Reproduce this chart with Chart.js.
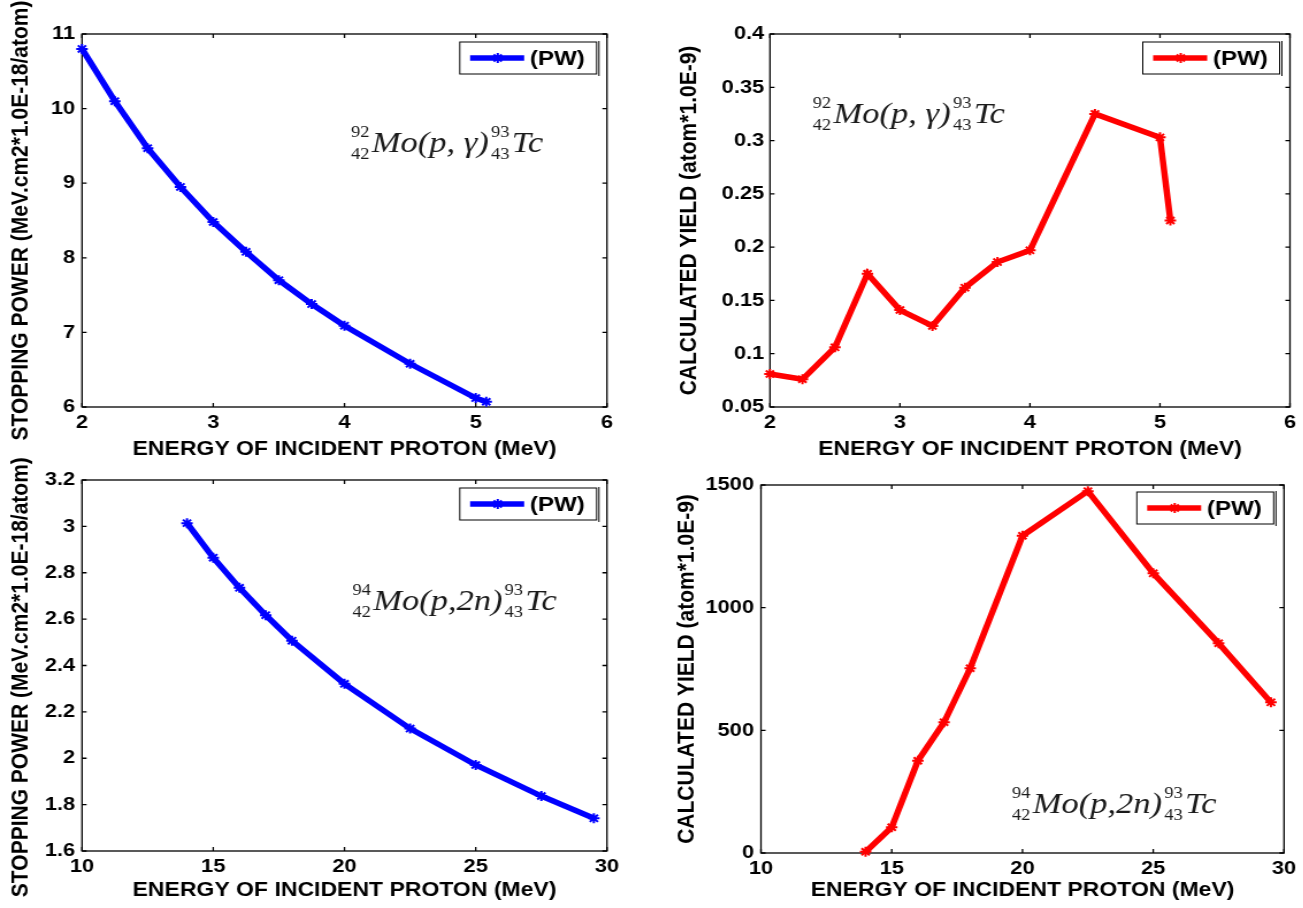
<!DOCTYPE html>
<html>
<head>
<meta charset="utf-8">
<script src="https://cdn.jsdelivr.net/npm/chart.js@4"></script>
<style>
  body { margin: 0; background: #fff; width: 1303px; height: 908px; overflow: hidden; position: relative; }
  /* the original figure is stretched sideways, so each panel is drawn narrow and widened */
  .panel { position: absolute; transform: scaleX(1.15); transform-origin: 0 0; }
</style>
</head>
<body>
<div class="panel" style="left:0;top:0"><canvas id="c1" width="565" height="465"></canvas></div>
<div class="panel" style="left:650px;top:0"><canvas id="c2" width="568" height="465"></canvas></div>
<div class="panel" style="left:0;top:440px"><canvas id="c3" width="565" height="468"></canvas></div>
<div class="panel" style="left:650px;top:465px"><canvas id="c4" width="568" height="443"></canvas></div>
<script>
// 92Mo(p,gamma)93Tc, low energy
const energyLow = [2, 2.25, 2.5, 2.75, 3, 3.25, 3.5, 3.75, 4, 4.5, 5, 5.08];
const stoppingLow = [10.8, 10.1, 9.47, 8.95, 8.48, 8.08, 7.70, 7.38, 7.09, 6.58, 6.12, 6.07];
const yieldLow = [0.081, 0.076, 0.106, 0.175, 0.141, 0.126, 0.162, 0.186, 0.197, 0.325, 0.303, 0.225];

// 94Mo(p,2n)93Tc, high energy
const energyHigh = [14, 15, 16, 17, 18, 20, 22.5, 25, 27.5, 29.5];
const stoppingHigh = [3.014, 2.865, 2.735, 2.617, 2.507, 2.321, 2.128, 1.971, 1.837, 1.741];
const yieldHigh = [5, 105, 376, 533, 753, 1293, 1475, 1140, 855, 614];

// tick labels
const lowEnergyTicks = [2, 3, 4, 5, 6];
const highEnergyTicks = [10, 15, 20, 25, 30];
const stoppingLowTicks = [6, 7, 8, 9, 10, 11];
const yieldLowTicks = [0.05, 0.1, 0.15, 0.2, 0.25, 0.3, 0.35, 0.4];
const stoppingHighTicks = [1.6, 1.8, 2, 2.2, 2.4, 2.6, 2.8, 3, 3.2];
const yieldHighTicks = [0, 500, 1000, 1500];

const seriesLabel = '(PW)';
const xTitle = 'ENERGY OF INCIDENT PROTON (MeV)';
const stoppingTitle = 'STOPPING POWER (MeV.cm2*1.0E-18/atom)';
const yieldTitle = 'CALCULATED YIELD (atom*1.0E-9)';

Chart.defaults.font.family = 'Arial, "Liberation Sans", sans-serif';
Chart.defaults.font.weight = 'bold';
Chart.defaults.color = '#000';

const fmt = v => String(Math.round(v * 1000) / 1000);

// box with inward ticks on all four sides, matlab style
const framePlugin = {
  id: 'frame',
  beforeDatasetsDraw(chart) {
    const { ctx, chartArea: a, scales: { x, y } } = chart;
    ctx.save();
    ctx.strokeStyle = '#000';
    ctx.lineWidth = 1.3;
    ctx.strokeRect(a.left, a.top, a.right - a.left, a.bottom - a.top);
    ctx.beginPath();
    x.ticks.forEach(t => {
      const px = x.getPixelForValue(t.value);
      ctx.moveTo(px, a.bottom); ctx.lineTo(px, a.bottom - 4);
      ctx.moveTo(px, a.top); ctx.lineTo(px, a.top + 4);
    });
    y.ticks.forEach(t => {
      const py = y.getPixelForValue(t.value);
      ctx.moveTo(a.left, py); ctx.lineTo(a.left + 4, py);
      ctx.moveTo(a.right, py); ctx.lineTo(a.right - 4, py);
    });
    ctx.stroke();
    ctx.restore();
  }
};

// legend inside the plot, in a framed box
const boxLegend = {
  id: 'boxLegend',
  afterDraw(chart, args, o) {
    const { ctx, chartArea: a } = chart;
    const ds = chart.data.datasets[0];
    const r = a.right - o.inset, l = r - o.width;
    const t = a.top + o.top, b = t + o.height;
    const my = (t + b) / 2;
    ctx.save();
    ctx.fillStyle = '#fff';
    ctx.fillRect(l, t, r - l, b - t);
    ctx.strokeStyle = '#000';
    ctx.lineWidth = 1;
    ctx.strokeRect(l, t, r - l, b - t);
    ctx.beginPath();
    ctx.moveTo(r + 2, t - 1); ctx.lineTo(r + 2, b + 2);
    ctx.stroke();

    ctx.strokeStyle = ds.borderColor;
    ctx.fillStyle = ds.borderColor;
    ctx.lineWidth = ds.borderWidth;
    ctx.beginPath();
    ctx.moveTo(l + 9, my); ctx.lineTo(l + 56, my);
    ctx.stroke();
    ctx.lineWidth = ds.pointBorderWidth;
    Chart.helpers.drawPoint(ctx, { pointStyle: ds.pointStyle, radius: ds.pointRadius, borderWidth: ds.pointBorderWidth, rotation: 0 }, l + 33, my);

    ctx.fillStyle = '#000';
    ctx.font = 'bold 21px Arial, "Liberation Sans", sans-serif';
    ctx.textBaseline = 'middle';
    ctx.fillText(ds.label, l + 61, my + 1);
    ctx.restore();
  }
};

// reaction label like 92/42 Mo(p,g) 93/43 Tc, anchored in data units
const reactionLabel = {
  id: 'reaction',
  afterDraw(chart, args, o) {
    const { ctx, scales: { x, y } } = chart;
    let px = x.getPixelForValue(o.x);
    const py = y.getPixelForValue(o.y);
    const small = '16px "Liberation Serif", "Times New Roman", serif';
    const big = 'italic 30px "Liberation Serif", "Times New Roman", serif';
    ctx.save();
    ctx.fillStyle = '#1a1a1a';
    ctx.textBaseline = 'alphabetic';

    const scripts = (sup, sub) => {
      ctx.font = small;
      const w = Math.max(ctx.measureText(sup).width, ctx.measureText(sub).width);
      ctx.fillText(sup, px, py - 15);
      ctx.fillText(sub, px, py + 7);
      px += w + 2;
    };
    scripts(o.a1, o.z1);
    ctx.font = big;
    ctx.fillText(o.body, px, py);
    px += ctx.measureText(o.body).width + 2;
    scripts(o.a2, o.z2);
    ctx.font = big;
    ctx.fillText(o.tail, px, py);
    ctx.restore();
  }
};

function makeChart(id, xs, ys, color, xt, yt, yTitle, g, label) {
  return new Chart(document.getElementById(id), {
    type: 'line',
    data: {
      datasets: [{
        label: seriesLabel,
        data: xs.map((v, i) => ({ x: v, y: ys[i] })),
        borderColor: color,
        backgroundColor: color,
        borderWidth: 5.5,
        pointStyle: 'star',
        pointRadius: 5,
        pointBorderWidth: 2,
        pointBorderColor: color,
        pointBackgroundColor: color,
        tension: 0,
        clip: 10
      }]
    },
    options: {
      responsive: false,
      animation: false,
      layout: { padding: { left: 0, top: g.top, right: g.right, bottom: 0 } },
      plugins: {
        legend: { display: false },
        tooltip: { enabled: false },
        boxLegend: { inset: 9, width: 119, top: g.legTop, height: 32 },
        reaction: label
      },
      scales: {
        x: {
          type: 'linear',
          min: xt[0],
          max: xt[xt.length - 1],
          afterBuildTicks: s => { s.ticks = xt.map(v => ({ value: v })); },
          afterFit: s => { s.height = g.xh; },
          grid: { display: false, drawTicks: false },
          border: { display: false },
          ticks: { padding: 4, maxRotation: 0, autoSkip: false, font: { size: 19 }, callback: fmt },
          title: { display: true, text: xTitle, font: { size: 20 }, padding: { top: 0, bottom: g.xtp } }
        },
        y: {
          type: 'linear',
          min: yt[0],
          max: yt[yt.length - 1],
          afterBuildTicks: s => { s.ticks = yt.map(v => ({ value: v })); },
          afterFit: s => { s.width = g.left; },
          grid: { display: false, drawTicks: false },
          border: { display: false },
          ticks: { padding: g.ytp, autoSkip: false, font: { size: 19 }, callback: fmt },
          title: { display: true, text: yTitle, font: { size: 21 }, padding: { top: g.ytt, bottom: 0 } }
        }
      }
    },
    plugins: [framePlugin, boxLegend, reactionLabel]
  });
}

makeChart('c1', energyLow, stoppingLow, '#0000ff', lowEnergyTicks, stoppingLowTicks, stoppingTitle,
  { left: 71.3, right: 37.2, top: 34, xh: 58, xtp: 4, ytp: 6, ytt: 6, legTop: 8 },
  { x: 4.05, y: 9.42, a1: '92', z1: '42', body: 'Mo(p, \u03b3)', a2: '93', z2: '43', tail: 'Tc' });

makeChart('c2', energyLow, yieldLow, '#ff0000', lowEnergyTicks, yieldLowTicks, yieldTitle,
  { left: 104.3, right: 11.5, top: 34, xh: 58, xtp: 4, ytp: 5, ytt: 22, legTop: 8 },
  { x: 2.33, y: 0.3165, a1: '92', z1: '42', body: 'Mo(p, \u03b3)', a2: '93', z2: '43', tail: 'Tc' });

// trailing spaces push this title a little lower, as in the original
makeChart('c3', energyHigh, stoppingHigh, '#0000ff', highEnergyTicks, stoppingHighTicks, stoppingTitle + '    ',
  { left: 71.3, right: 37.2, top: 40, xh: 57, xtp: 6, ytp: 6, ytt: 6, legTop: 8 },
  { x: 20.3, y: 2.64, a1: '94', z1: '42', body: 'Mo(p,2n)', a2: '93', z2: '43', tail: 'Tc' });

makeChart('c4', energyHigh, yieldHigh, '#ff0000', highEnergyTicks, yieldHighTicks, yieldTitle,
  { left: 96.5, right: 16.7, top: 20, xh: 55, xtp: 6, ytp: 6, ytt: 20, legTop: 7 },
  { x: 19.6, y: 163, a1: '94', z1: '42', body: 'Mo(p,2n)', a2: '93', z2: '43', tail: 'Tc' });
</script>
</body>
</html>
